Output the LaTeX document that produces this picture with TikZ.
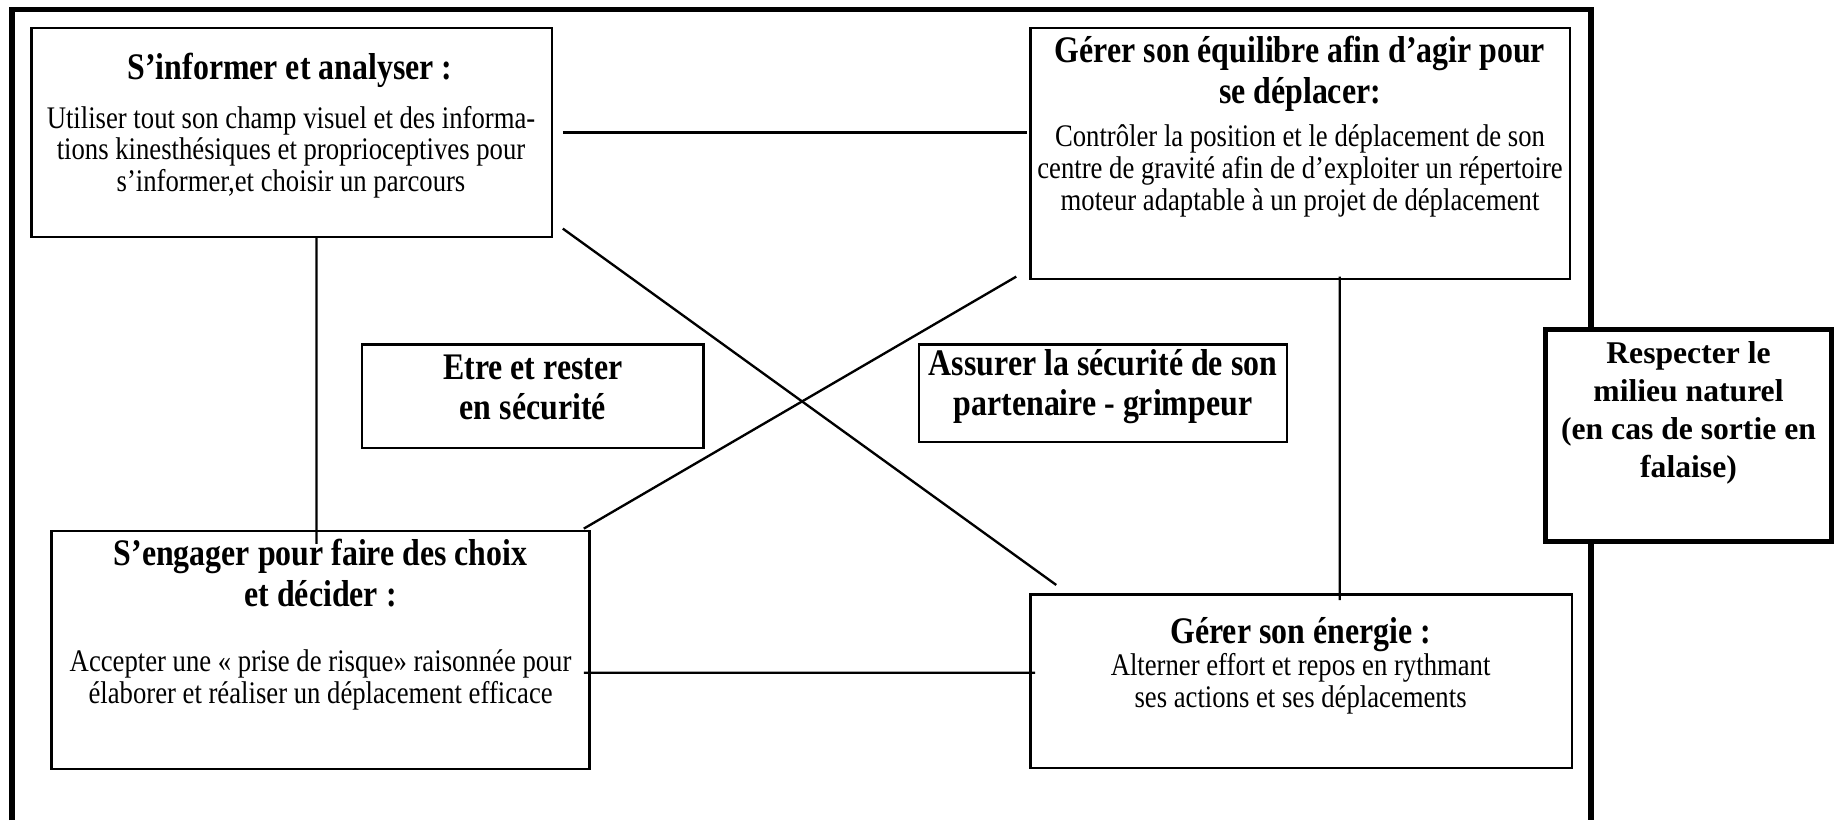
\documentclass[tikz,border=0pt]{standalone}
\usepackage{fontspec}
\setmainfont{Liberation Serif}
\newfontfamily\narrowfont[FakeStretch=0.85]{Liberation Serif}
\usetikzlibrary{calc,positioning}
\newcommand{\headfont}{\narrowfont\bfseries\fontsize{16}{17.5}\selectfont}
\newcommand{\bodyfont}{\narrowfont\fontsize{13.4}{13.5}\selectfont}
\newcommand{\pairfont}{\narrowfont\bfseries\fontsize{16}{17}\selectfont}
\newcommand{\sidefont}{\bfseries\fontsize{13.5}{16.3}\selectfont}

\begin{document}
\begin{tikzpicture}[
        x=0.015cm, y=-0.015cm,
        box/.style={draw, line width=1pt, inner sep=0pt},
        sidebox/.style={draw, fill=white, line width=2.2pt, inner sep=0pt},
        head/.style={font=\headfont, align=center, inner sep=0pt},
        body/.style={font=\bodyfont, align=center, inner sep=0pt},
        link/.style={line width=1pt}
      ]
      \useasboundingbox (0,0) rectangle (1838,820);
      % frame, open at the bottom
      \draw[line width=2.4pt] (11.7,820) -- (11.7,9.4) -- (1590.7,9.4) -- (1590.7,820);

      \node[box, minimum width=7.81cm, minimum height=3.13cm] (inform) at (291.9,132.5) {};
      \node[box, minimum width=8.09cm, minimum height=3.76cm] (balance) at (1300,153.6) {};
      \node[box, minimum width=8.07cm, minimum height=3.57cm] (decide) at (320.6,650) {};
      \node[box, minimum width=8.12cm, minimum height=2.60cm] (energy) at (1301.2,681) {};
      \node[box, minimum width=5.12cm, minimum height=1.55cm] (safe) at (532.8,396.2) {};
      \node[box, minimum width=5.52cm, minimum height=1.46cm] (belay) at (1103,393.3) {};
      \node[sidebox, minimum width=4.30cm, minimum height=3.18cm] (nature) at (1688.5,435.5) {};

      \node[head] (inform-t) at (290,70.3) {S’informer et analyser :};
      \node[body] (inform-b) at (291,152) {Utiliser tout son champ visuel et des informa-\\tions kinesthésiques et proprioceptives pour\\s’informer,et choisir un parcours};
      \node[head] (balance-t) at (1300,73.3) {Gérer son équilibre afin d’agir pour\\se déplacer:};
      \node[body] (balance-b) at (1300,171) {Contrôler la position et le déplacement de son\\centre de gravité afin de d’exploiter un répertoire\\moteur adaptable à un projet de déplacement};
      \node[head] (decide-t) at (320.6,573.2) {S’engager pour faire des choix\\et décider :};
      \node[body] (decide-b) at (320.6,680) {Accepter une « prise de risque» raisonnée pour\\élaborer et réaliser un déplacement efficace};
      \node[head] (energy-t) at (1300.6,634.2) {Gérer son énergie :};
      \node[body] (energy-b) at (1300.6,683.5) {Alterner effort et repos en rythmant\\ses actions et ses déplacements};
      \node[head, font=\pairfont] (safe-t) at (532.8,387.4) {Etre et rester\\en sécurité};
      \node[head, font=\pairfont] (belay-t) at (1103,386.3) {Assurer la sécurité de son\\partenaire - grimpeur};
      \node[head, font=\sidefont] (nature-t) at (1688.5,413) {Respecter le\\milieu naturel\\(en cas de sortie en\\falaise)};

      \draw[link] ($(inform.east)+(9.4,0)$) -- ($(balance.west)+(-2.4,-21.1)$);
      \draw[link] ($(inform.south)+(24.6,0)$) -- ($(decide.north)+(-4.1,14)$);
      \draw[link] ($(inform.south east)+(9.4,-9.4)$) -- ($(energy.north west)+(26.9,-8.2)$);
      \draw[link] ($(decide.north east)+(-7,-1.2)$) -- ($(balance.south west)+(-12.9,-3.5)$);
      \draw[link] ($(decide.east)+(-7,22.8)$) -- ($(energy.west)+(5.8,-8.2)$);
      \draw[link] ($(balance.south)+(39.8,-3.5)$) -- ($(energy.north)+(38.6,7)$);
    \end{tikzpicture}
\end{document}
